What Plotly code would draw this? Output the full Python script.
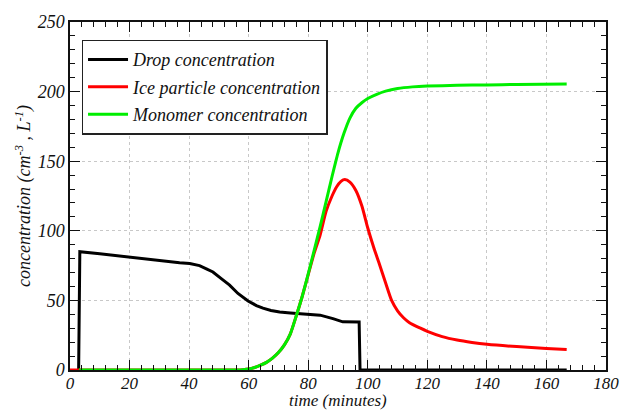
import plotly.graph_objects as go

# Drop concentration (cm^-3) vs time (minutes)
drop_t = [2.9, 3.3, 10, 20, 30, 36.8, 40.2, 43.5, 45.8, 48, 50.8, 53.6, 56.4, 59.8,
          62.6, 64.8, 67.5, 70.4, 74, 77.1, 80, 84, 88.3, 91.6, 97.1, 97.4, 166.8]
drop_v = [0, 85, 83.5, 81, 78.3, 77, 76.5, 75, 72.7, 70.4, 65.6, 61, 55, 49.6,
          46.3, 44.4, 42.8, 41.6, 40.9, 40.4, 40.0, 39.4, 36.9, 34.6, 34.5, 0, 0]

# Ice particle concentration (L^-1)
ice_t = [0, 56, 58, 60, 62, 64, 66, 68, 70, 72, 74, 76, 78, 80, 82, 84, 86, 88,
         89.5, 91, 92.3, 94, 96, 98, 100, 102, 104, 106, 108, 110, 112, 114,
         117.5, 120, 125, 130, 135, 140, 150, 160, 166.8]
ice_v = [0, 0, 0.2, 0.7, 1.8, 3.5, 5.5, 8.5, 12.5, 18, 26, 39, 53, 68.5, 84, 97,
         114, 125, 131.5, 135.5, 136.8, 135, 129, 118, 102, 88, 75.5, 62.5, 50,
         42.5, 37.5, 34, 30.2, 27.8, 24, 21.5, 19.8, 18.5, 16.8, 15.5, 14.8]

# Monomer concentration (L^-1)
mono_t = [3, 56, 58, 60, 62, 64, 66, 68, 70, 72, 74, 76, 78, 80, 82, 84, 86, 88,
          90, 92, 94, 96, 98, 100, 103, 106, 110, 115, 120, 130, 140, 150, 166.8]
mono_v = [0, 0, 0.2, 0.7, 1.8, 3.5, 5.5, 8.5, 12.5, 18, 26, 39, 53, 69, 86, 103,
          121, 139, 156, 170, 181, 188, 192, 195, 198, 200.3, 202.2, 203.4, 204,
          204.5, 204.8, 205.1, 205.5]

names = ["Drop concentration", "Ice particle concentration", "Monomer concentration"]
colors = ["#000000", "#ff0000", "#00ee00"]
shapes = ["linear", "spline", "spline"]

fig = go.Figure()
for i, (t, v) in enumerate([(drop_t, drop_v), (ice_t, ice_v), (mono_t, mono_v)]):
    fig.add_trace(go.Scatter(
        x=t, y=v, mode="lines", name=names[i], legendgroup=f"g{i}",
        line=dict(color=colors[i], width=3, shape=shapes[i], smoothing=0.6),
    ))

def serif(size=18):
    return dict(family="Liberation Serif, Times New Roman, serif",
                size=size, color="#111", style="italic")

axis_common = dict(
    showline=True, linecolor="#111", linewidth=1.5, mirror="ticks",
    ticks="inside", ticklen=10, tickwidth=1.3, tickcolor="#111",
    showgrid=True, gridcolor="#c8c8c8", griddash="dot", gridwidth=1,
    zeroline=False,
)

fig.update_xaxes(
    range=[0, 180], dtick=20, tick0=0, ticklabelstandoff=-3, automargin=False,
    tickfont=serif(17),
    minor=dict(dtick=4, ticks="inside", ticklen=5, tickwidth=1.2, tickcolor="#111", showgrid=False),
    **axis_common,
)
fig.update_yaxes(
    range=[0, 250], dtick=50, tick0=0, automargin=True, tickfont=serif(18),
    minor=dict(dtick=10, ticks="inside", ticklen=5, tickwidth=1.2, tickcolor="#111", showgrid=False),
    title=dict(text="concentration (cm<sup>-3</sup> , L<sup>-1</sup>)", font=serif(), standoff=2),
    **axis_common,
)

# x-axis title placed along the bottom edge of the figure
fig.add_annotation(
    text="time (minutes)", xref="paper", yref="paper", x=0.5, y=-42 / 353.5,
    xanchor="center", yanchor="bottom", showarrow=False, font=serif(17),
    borderpad=0,
)

fig.update_layout(
    width=624, height=412, autosize=False,
    margin=dict(l=70, r=18, t=16, b=42),
    plot_bgcolor="white", paper_bgcolor="white",
    legend=dict(
        x=0.0215, y=0.949, xanchor="left", yanchor="top",
        bgcolor="white", bordercolor="#222", borderwidth=1.5,
        font=serif(), itemwidth=40, tracegroupgap=1,
    ),
)

fig.write_html("out.html")
